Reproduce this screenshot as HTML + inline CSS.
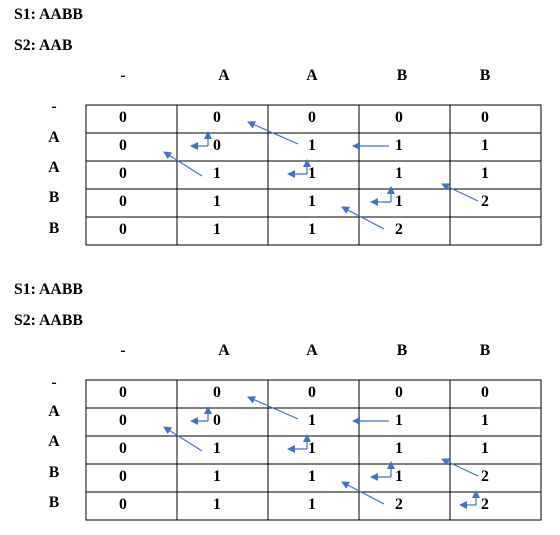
<!DOCTYPE html>
<html><head><meta charset="utf-8">
<style>
html,body{margin:0;padding:0;background:#fff;}
svg{display:block;font-family:"Liberation Serif",serif;font-weight:bold;font-size:15.8px;}
</style></head>
<body>
<svg id="s" width="560" height="535" viewBox="0 0 560 535">
<defs><marker id="ah" markerWidth="8" markerHeight="8" refX="7" refY="4" orient="auto" markerUnits="userSpaceOnUse"><path d="M0,0 L8,4 L0,8 z" fill="#4472c4"/></marker></defs>
</svg>
<script>
const NS='http://www.w3.org/2000/svg';
const svg=document.getElementById('s');
const colHeaders=['-','A','A','B','B'];
const rowHeadersA=['-','A','A','B','B'];
const table1=[[0,0,0,0,0],[0,0,1,1,1],[0,1,1,1,1],[0,1,1,1,2],[0,1,1,2,'']];
const table2=[[0,0,0,0,0],[0,0,1,1,1],[0,1,1,1,1],[0,1,1,1,2],[0,1,1,2,2]];
const colX=[86,177,268,359,450,541];
const textX=[123,217,312,399,485];
const headX=[123,224,312,402,485];
function el(tag,attrs,txt){const e=document.createElementNS(NS,tag);for(const k in attrs)e.setAttribute(k,attrs[k]);if(txt!==undefined)e.textContent=txt;svg.appendChild(e);return e;}
function drawBlock(top,s2,grid,extra,rowLabelYs,prefix){
  let t=el('text',{x:14,y:top-86});t.textContent='S1: AABB';
  
  
  t=el('text',{x:14,y:top-55});t.textContent='S2: '+s2;
  
  
  colHeaders.forEach((h,i)=>{const e=el('text',{x:headX[i],y:top-25,'text-anchor':'middle'},h);
    
    });
  rowHeadersA.forEach((h,i)=>{const e=el('text',{x:54,y:top+rowLabelYs[i],'text-anchor':'middle'},h);
    
    });
  const g=el('rect',{x:86,y:top,width:455,height:140,fill:'none',stroke:'#000','stroke-width':1});
  
  
  for(let i=1;i<5;i++){el('line',{x1:colX[i],x2:colX[i],y1:top,y2:top+140,stroke:'#000'});
    el('line',{x1:86,x2:541,y1:top+28*i,y2:top+28*i,stroke:'#000'});}
  grid.forEach((row,r)=>row.forEach((v,c)=>{const e=el('text',{x:textX[c],y:top+28*r+17,'text-anchor':'middle'},String(v));
    
    }));
  const diag=[[298,39,248,17],[202,71,164,47],[478,96,442,79],[384,124,342,102]];
  const left=[[389,41,353,41]];
  diag.concat(left).forEach(a=>{const e=el('line',{x1:a[0],y1:top+a[1],x2:a[2],y2:top+a[3],stroke:'#4472c4','stroke-width':1.2,'marker-end':'url(#ah)'});
    
    });
  const corners=[[208,41,191,27],[307,69,288,55],[391,97,371,82]].concat(extra);
  corners.forEach(c=>{
    const h=el('line',{x1:c[0],y1:top+c[1],x2:c[2],y2:top+c[1],stroke:'#4472c4','stroke-width':1.2,'marker-end':'url(#ah)'});
    
    
    const v=el('line',{x1:c[0],y1:top+c[1],x2:c[0],y2:top+c[3],stroke:'#4472c4','stroke-width':1.2,'marker-end':'url(#ah)'});
    
    
  });
}
drawBlock(105,'AAB',table1,[],[6,37,67,97,128],'top');
drawBlock(380,'AABB',table2,[[476,125,460,111]],[7,36,66,97,127],'bottom');
</script>
</body></html>
